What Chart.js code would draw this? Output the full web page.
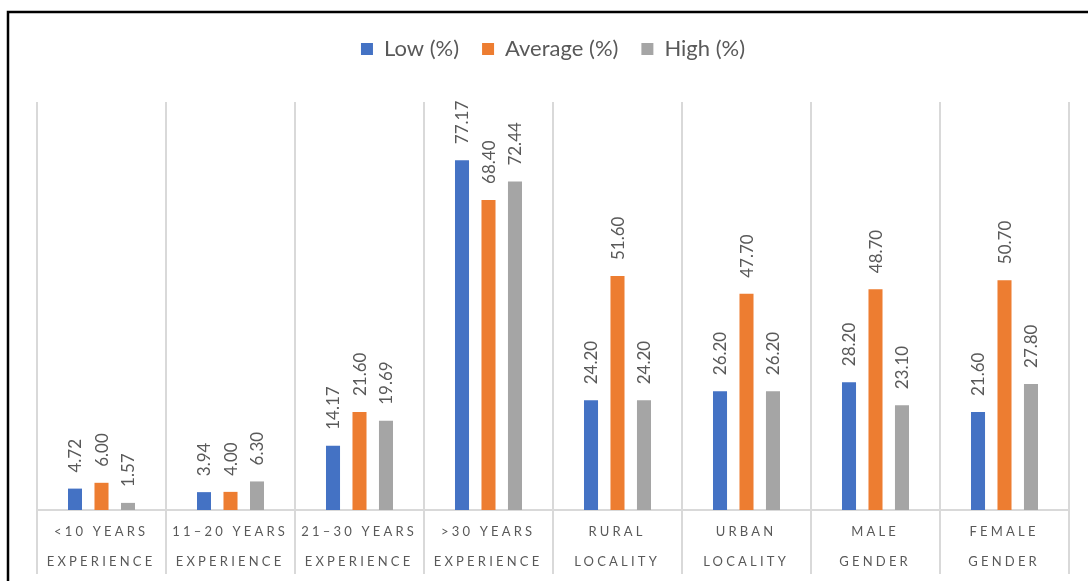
<!DOCTYPE html>
<html>
<head>
<meta charset="utf-8">
<title>Low, average and high levels by group</title>
<script src="https://cdn.jsdelivr.net/npm/chart.js@4.4.1/dist/chart.umd.min.js"></script>
<style>
  html, body { margin: 0; padding: 0; background: #ffffff; }
  #wrap { width: 1088px; height: 581px; position: relative; }
  canvas { display: block; }
</style>
</head>
<body>
<div id="wrap"><canvas id="chart" width="1088" height="581"></canvas></div>
<script>
// Group labels (two lines each)
const groupLine1 = ['<10 YEARS', '11\u201320 YEARS', '21\u201330 YEARS', '>30 YEARS', 'RURAL', 'URBAN', 'MALE', 'FEMALE'];
const groupLine2 = ['EXPERIENCE', 'EXPERIENCE', 'EXPERIENCE', 'EXPERIENCE', 'LOCALITY', 'LOCALITY', 'GENDER', 'GENDER'];

// Percentages per level
const lowPct  = [4.72, 3.94, 14.17, 77.17, 24.20, 26.20, 28.20, 21.60];
const avgPct  = [6.00, 4.00, 21.60, 68.40, 51.60, 47.70, 48.70, 50.70];
const highPct = [1.57, 6.30, 19.69, 72.44, 24.20, 26.20, 23.10, 27.80];

const seriesNames = ['Low (%)', 'Average (%)', 'High (%)'];

const TEXT_GREY = '#595959';
const GRID_GREY = '#d9d9d9';
const FONT = 'Lato, "Open Sans", sans-serif';

const categories = groupLine1.map((l1, i) => [l1, groupLine2[i]]);

// Extra room under the legend so the plot starts lower
const legendSpacer = {
  id: 'legendSpacer',
  beforeLayout(chart) {
    const lg = chart.legend;
    if (lg && !lg._spaced) {
      const fit = lg.fit;
      lg.fit = function () {
        fit.call(this);
        this.height += 32;
      };
      lg._spaced = true;
    }
  }
};

// Rotated value labels above each bar
const valueLabels = {
  id: 'valueLabels',
  afterDatasetsDraw(chart) {
    const ctx = chart.ctx;
    ctx.save();
    ctx.fillStyle = TEXT_GREY;
    ctx.font = '17px ' + FONT;
    ctx.textAlign = 'left';
    ctx.textBaseline = 'middle';
    chart.data.datasets.forEach((ds, di) => {
      chart.getDatasetMeta(di).data.forEach((bar, i) => {
        const v = ds.data[i];
        ctx.save();
        ctx.translate(bar.x + 1, bar.y - 16);
        ctx.rotate(-Math.PI / 2);
        ctx.fillText(v.toFixed(2), 0, 0);
        ctx.restore();
      });
    });
    ctx.restore();
  }
};

// Letter-spaced two-line category labels and the outer frame
const groupLabels = {
  id: 'groupLabels',
  afterDraw(chart) {
    const ctx = chart.ctx;
    const xs = chart.scales.x;
    const spacing = 3.2;
    ctx.save();
    ctx.fillStyle = TEXT_GREY;
    ctx.font = '13px ' + FONT;
    ctx.textAlign = 'center';
    ctx.textBaseline = 'middle';
    ctx.letterSpacing = spacing + 'px';
    categories.forEach((lines, i) => {
      const x = xs.getPixelForValue(i) + spacing / 2 - 2;
      ctx.fillText(lines[0], x, 532);
      ctx.fillText(lines[1], x, 562);
    });
    ctx.restore();

    // frame
    ctx.save();
    ctx.strokeStyle = '#000000';
    ctx.lineWidth = 2.5;
    ctx.beginPath();
    ctx.moveTo(8, 581);
    ctx.lineTo(8, 12);
    ctx.lineTo(1088, 12);
    ctx.stroke();
    ctx.restore();
  }
};

new Chart(document.getElementById('chart'), {
  type: 'bar',
  data: {
    labels: categories,
    datasets: [
      { label: seriesNames[0], data: lowPct,  backgroundColor: '#4472C4' },
      { label: seriesNames[1], data: avgPct,  backgroundColor: '#ED7D31' },
      { label: seriesNames[2], data: highPct, backgroundColor: '#A5A5A5' }
    ]
  },
  options: {
    responsive: false,
    animation: false,
    devicePixelRatio: 1,
    layout: { padding: { top: 15, left: 37, right: 19, bottom: 7 } },
    datasets: {
      bar: { categoryPercentage: 0.616, barPercentage: 0.53 }
    },
    scales: {
      x: {
        offset: true,
        grid: {
          offset: true,
          color: GRID_GREY,
          lineWidth: 2,
          drawTicks: true,
          tickLength: 64
        },
        border: { display: true, color: GRID_GREY, width: 2 },
        ticks: { display: false }
      },
      y: {
        display: false,
        min: 0,
        max: 90
      }
    },
    plugins: {
      legend: {
        position: 'top',
        labels: {
          color: TEXT_GREY,
          font: { family: FONT, size: 22 },
          boxWidth: 12,
          boxHeight: 12,
          padding: 23
        }
      },
      title: { display: false },
      tooltip: { enabled: false }
    }
  },
  plugins: [legendSpacer, valueLabels, groupLabels]
});
</script>
</body>
</html>
